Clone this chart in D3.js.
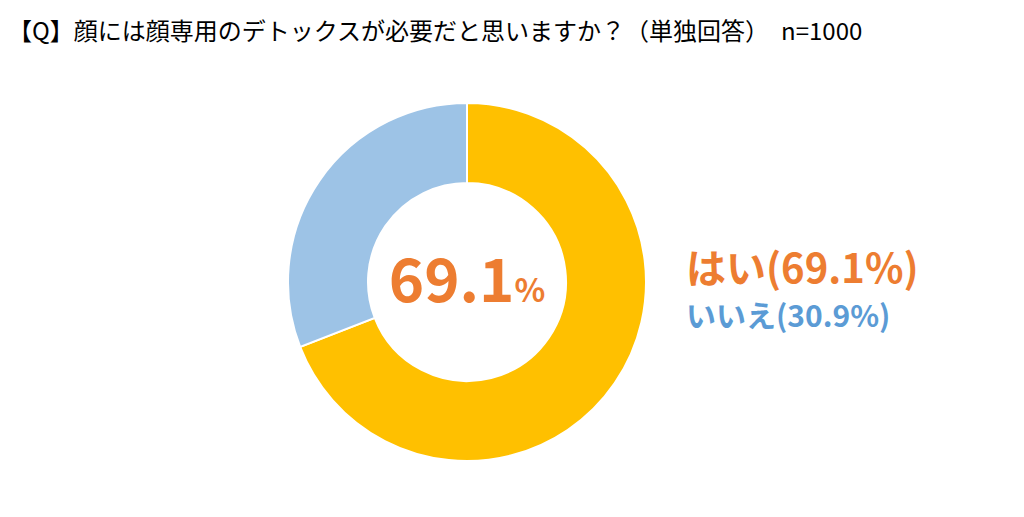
<!DOCTYPE html><html><head><meta charset="utf-8"><script src="https://cdn.jsdelivr.net/npm/d3@7"></script>
<style>body{margin:0;background:#fff}</style></head><body><svg id="c" width="1024" height="517"></svg>
<script>
const categories=["はい","いいえ"];
const values=[69.1,30.9];
const colors=["#FFC000","#9DC3E6"];
const svg=d3.select("#c");
const font="'Noto Sans CJK JP','Noto Sans',sans-serif";
svg.append("text").attr("x",8).attr("y",40).attr("font-family",font).attr("font-size",24).attr("fill","#000")
 .text("【Q】顔には顔専用のデトックスが必要だと思いますか？（単独回答）　n=1000");
const g=svg.append("g").attr("transform","translate(467,282)");
const pie=d3.pie().sort(null).value(d=>d)(values);
const arc=d3.arc().innerRadius(99).outerRadius(179);
g.selectAll("path").data(pie).join("path").attr("d",arc).attr("fill",(d,i)=>colors[i]).attr("stroke","#fff").attr("stroke-width",2);
const t=g.append("text").attr("text-anchor","middle").attr("y",20).attr("font-family",font).attr("font-weight","bold").attr("fill","#ED7D31");
t.append("tspan").attr("font-size",60).text(values[0].toFixed(1));
t.append("tspan").attr("font-size",32).text("%");
svg.append("text").attr("x",686).attr("y",283).attr("font-family",font).attr("font-weight","bold").attr("font-size",40).attr("fill","#ED7D31")
 .text(`${categories[0]}(${values[0]}%)`);
svg.append("text").attr("x",686).attr("y",327).attr("font-family",font).attr("font-weight","bold").attr("font-size",30).attr("fill","#5B9BD5")
 .text(`${categories[1]}(${values[1]}%)`);
</script></body></html>
